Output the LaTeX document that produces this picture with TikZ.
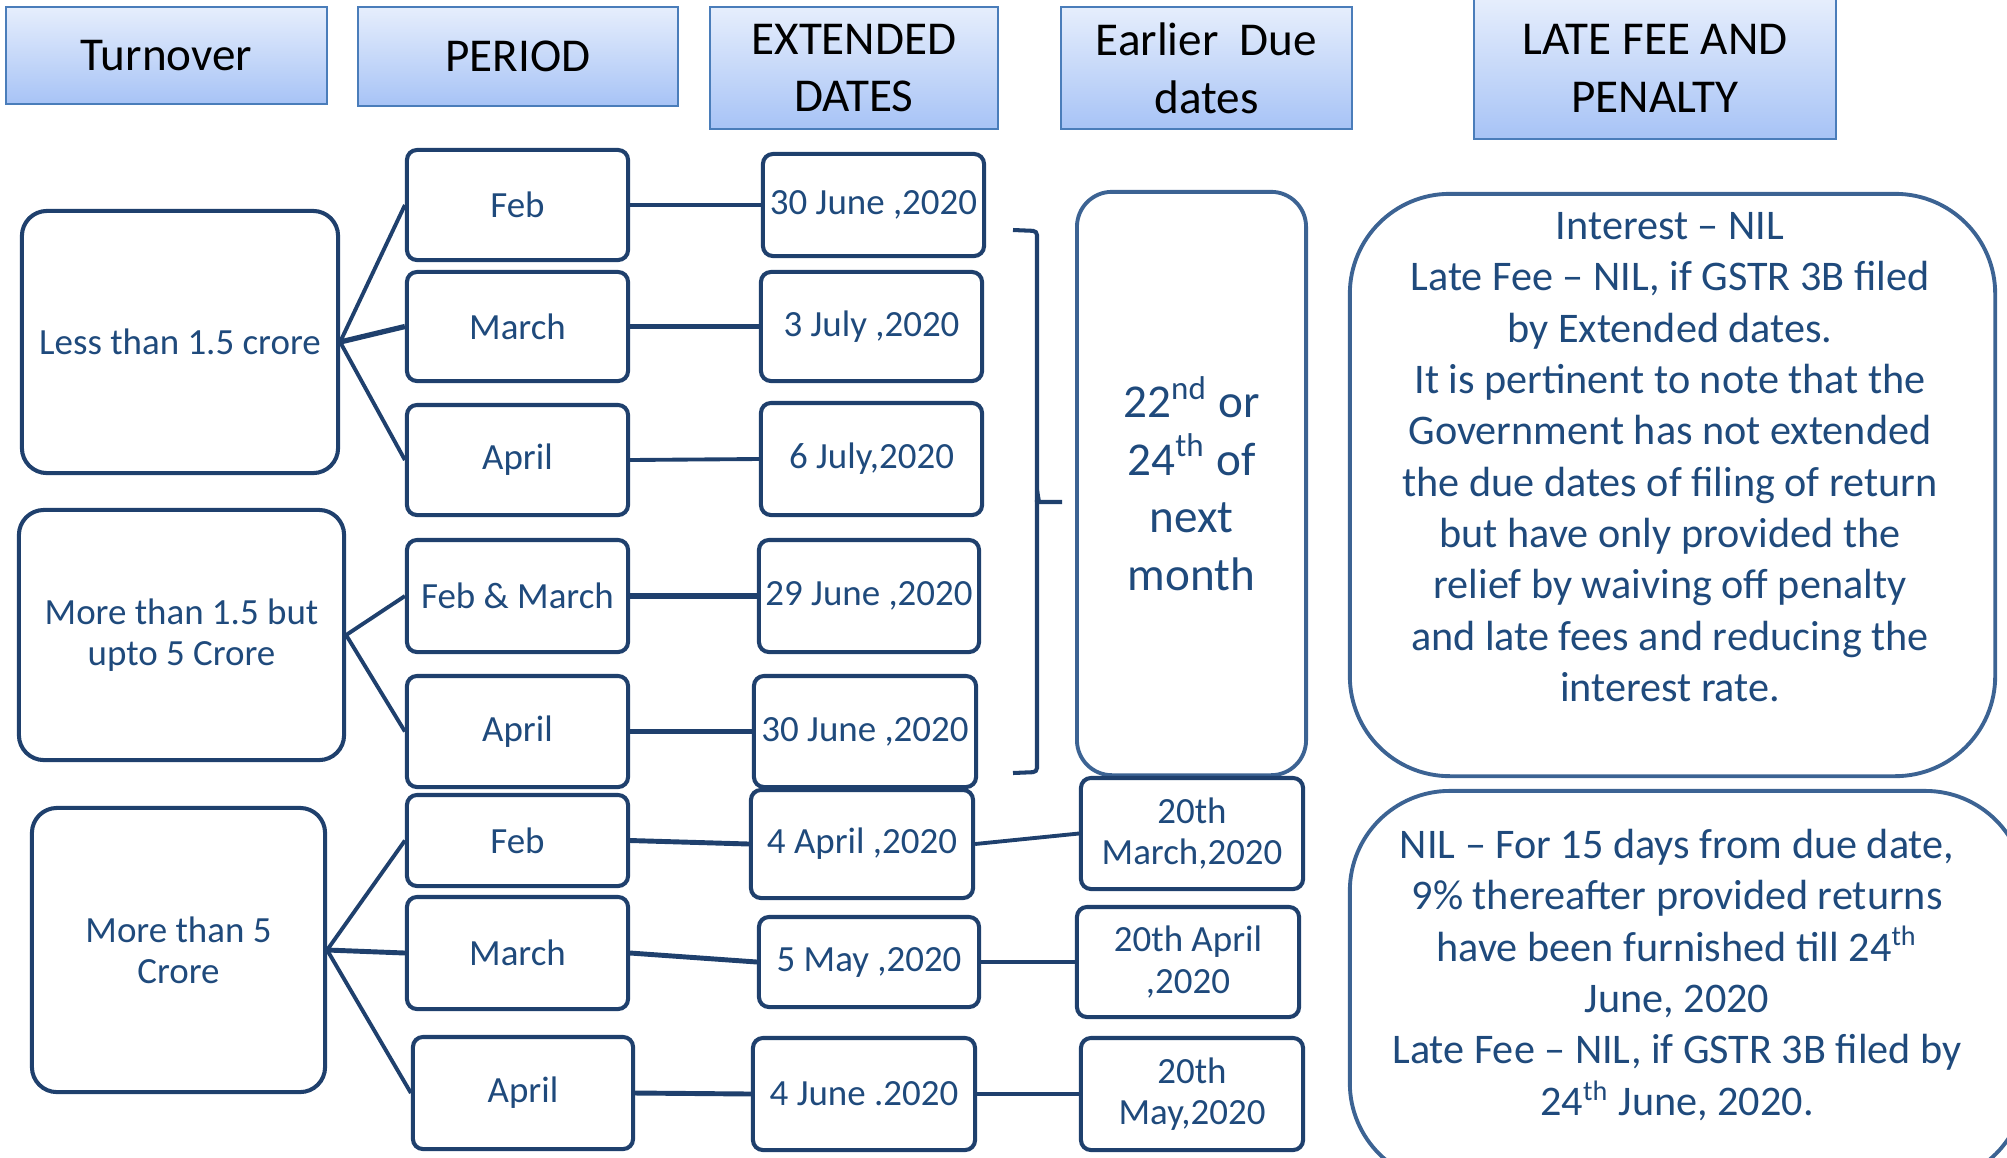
\documentclass[tikz,border=0pt]{standalone}
\usepackage{fontspec}
\setmainfont{Carlito}
\definecolor{txt}{HTML}{1F4A7C}
\definecolor{boxline}{HTML}{1F406D}
\definecolor{softline}{HTML}{3C6393}
\definecolor{hdrtop}{HTML}{E6EEFC}
\definecolor{hdrbot}{HTML}{A7C3F6}
\definecolor{hdrline}{HTML}{4A7DBA}
\tikzset{
  hdr/.style={draw=hdrline, line width=0.6pt, top color=hdrtop, bottom color=hdrbot,
    text=black, align=center, inner sep=0pt, font=\fontsize{13.4}{16.4}\selectfont},
  smallbox/.style={draw=boxline, line width=1.15pt, rounded corners=0.1cm, fill=white,
    text=txt, align=center, inner sep=0pt, font=\fontsize{10.5}{11.7}\selectfont},
  groupbox/.style={smallbox, rounded corners=0.25cm},
  tallbox/.style={draw=softline, line width=1.1pt, rounded corners=0.35cm, fill=white,
    text=txt, align=center, inner sep=0pt, font=\fontsize{13.4}{16.4}\selectfont},
  bigbox/.style={draw=softline, line width=1.1pt, rounded corners=1cm, inner sep=0pt},
  bigtext/.style={text=txt, align=center, inner sep=0pt, font=\fontsize{12}{14.6}\selectfont},
  link/.style={draw=boxline, line width=1.1pt},
}
\begin{document}
\begin{tikzpicture}[x=0.01cm, y=-0.01cm]
\useasboundingbox (0,0) rectangle (2007,1157);
\clip (0,0) rectangle (2007,1157);

% headers
\node[hdr, minimum width=3.21cm, minimum height=0.97cm] (h1) at (166.5,55.5) {Turnover};
\node[hdr, minimum width=3.20cm, minimum height=0.99cm] (h2) at (518,56.5) {PERIOD};
\node[hdr, minimum width=2.88cm, minimum height=1.22cm] (h3) at (854,68) {EXTENDED\\DATES};
\node[hdr, minimum width=2.91cm, minimum height=1.22cm] (h4) at (1206.5,68) {Earlier~~Due\\dates};
\node[hdr, minimum width=3.62cm, minimum height=1.41cm] (h5) at (1655,68.5) {LATE FEE AND\\PENALTY};

% turnover groups
\node[groupbox, minimum width=3.16cm, minimum height=2.62cm] (l1) at (180,342) {Less than 1.5 crore};
\node[groupbox, minimum width=3.25cm, minimum height=2.50cm] (l2) at (181.5,635) {More than 1.5 but\\upto 5 Crore};
\node[groupbox, minimum width=2.93cm, minimum height=2.84cm] (l3) at (178.5,950) {More than 5\\Crore};

% periods
\node[smallbox, minimum width=2.21cm, minimum height=1.10cm] (p1) at (517.5,205) {Feb};
\node[smallbox, minimum width=2.21cm, minimum height=1.09cm] (p2) at (517.5,326.5) {March};
\node[smallbox, minimum width=2.21cm, minimum height=1.10cm] (p3) at (517.5,460) {April};
\node[smallbox, minimum width=2.21cm, minimum height=1.12cm] (p4) at (517.5,596) {Feb \& March};
\node[smallbox, minimum width=2.21cm, minimum height=1.11cm] (p5) at (517.5,731.5) {April};
\node[smallbox, minimum width=2.21cm, minimum height=0.91cm] (p6) at (517.5,840.5) {Feb};
\node[smallbox, minimum width=2.21cm, minimum height=1.12cm] (p7) at (517.5,953) {March};
\node[smallbox, minimum width=2.20cm, minimum height=1.12cm] (p8) at (523,1093) {April};

% extended dates
\node[smallbox, minimum width=2.21cm, minimum height=1.02cm] (d1) at (873.5,205) {30 June ,2020};
\node[smallbox, minimum width=2.21cm, minimum height=1.09cm] (d2) at (871.5,326.5) {3 July ,2020};
\node[smallbox, minimum width=2.21cm, minimum height=1.12cm] (d3) at (871.5,459) {6 July,2020};
\node[smallbox, minimum width=2.20cm, minimum height=1.12cm] (d4) at (869,596) {29 June ,2020};
\node[smallbox, minimum width=2.22cm, minimum height=1.11cm] (d5) at (865,731.5) {30 June ,2020};
\node[smallbox, minimum width=2.22cm, minimum height=1.08cm] (d6) at (862,844) {4 April ,2020};
\node[smallbox, minimum width=2.20cm, minimum height=0.90cm] (d7) at (869,962) {5 May ,2020};
\node[smallbox, minimum width=2.22cm, minimum height=1.12cm] (d8) at (864,1094) {4 June .2020};

% earlier due dates
\node[tallbox, minimum width=2.29cm, minimum height=5.83cm] (e0) at (1191.5,483.5)
  {22\textsuperscript{nd} or\\24\textsuperscript{th} of\\next\\month};
\node[smallbox, minimum width=2.22cm, minimum height=1.11cm] (e1) at (1192,833.5) {20th\\March,2020};
\node[smallbox, minimum width=2.22cm, minimum height=1.10cm] (e2) at (1188,962) {20th April\\,2020};
\node[smallbox, minimum width=2.22cm, minimum height=1.12cm] (e3) at (1192,1094) {20th\\May,2020};

% bracket
\draw[boxline, line width=1.15pt, rounded corners=0.04cm]
  (1013,230) -- (1037,231) -- (1037,502) -- (1037,502);
\draw[boxline, line width=1.15pt, line join=round]
  (1037,490) -- (1039,502) -- (1062,502);
\draw[boxline, line width=1.15pt, rounded corners=0.04cm]
  (1037,500) -- (1037,772) -- (1013,773);

% late fee boxes
\node[bigbox, minimum width=6.45cm, minimum height=5.82cm] (r1) at (1672.5,485) {};
\node[bigtext] (r1t) at (1670,457) {Interest – NIL\\
Late Fee – NIL, if GSTR 3B filed\\
by Extended dates.\\
It is pertinent to note that the\\
Government has not extended\\
the due dates of filing of return\\
but have only provided the\\
relief by waiving off penalty\\
and late fees and reducing the\\
interest rate.};
\node[bigbox, minimum width=6.75cm, minimum height=3.92cm] (r2) at (1687.5,987) {};
\node[bigtext] (r2t) at (1677,975) {NIL – For 15 days from due date,\\
9\% thereafter provided returns\\
have been furnished till 24\textsuperscript{th}\\
June, 2020\\
Late Fee – NIL, if GSTR 3B filed by\\
24\textsuperscript{th} June, 2020.};

% connectors turnover -> period
\draw[link] (l1.east) -- (p1.west);
\draw[link, line width=1.5pt] (l1.east) -- (p2.west);
\draw[link] (l1.east) -- (p3.west);
\draw[link] (l2.east) -- (p4.west);
\draw[link] (l2.east) -- (p5.west);
\draw[link] (l3.east) -- (p6.west);
\draw[link, line width=1.4pt] (l3.east) -- (p7.west);
\draw[link] (l3.east) -- (p8.west);

% period -> extended
\draw[link] (p1.east) -- (d1.west);
\draw[link, line width=1.5pt] (p2.east) -- (d2.west);
\draw[link] (p3.east) -- (d3.west);
\draw[link, line width=1.5pt] (p4.east) -- (d4.west);
\draw[link, line width=1.5pt] (p5.east) -- (d5.west);
\draw[link, line width=1.4pt] (p6.east) -- (d6.west);
\draw[link, line width=1.4pt] (p7.east) -- (d7.west);
\draw[link, line width=1.4pt] (p8.east) -- (d8.west);

% extended -> earlier
\draw[link] (d6.east) -- (e1.west);
\draw[link] (d7.east) -- (e2.west);
\draw[link] (d8.east) -- (e3.west);
\end{tikzpicture}
\end{document}
